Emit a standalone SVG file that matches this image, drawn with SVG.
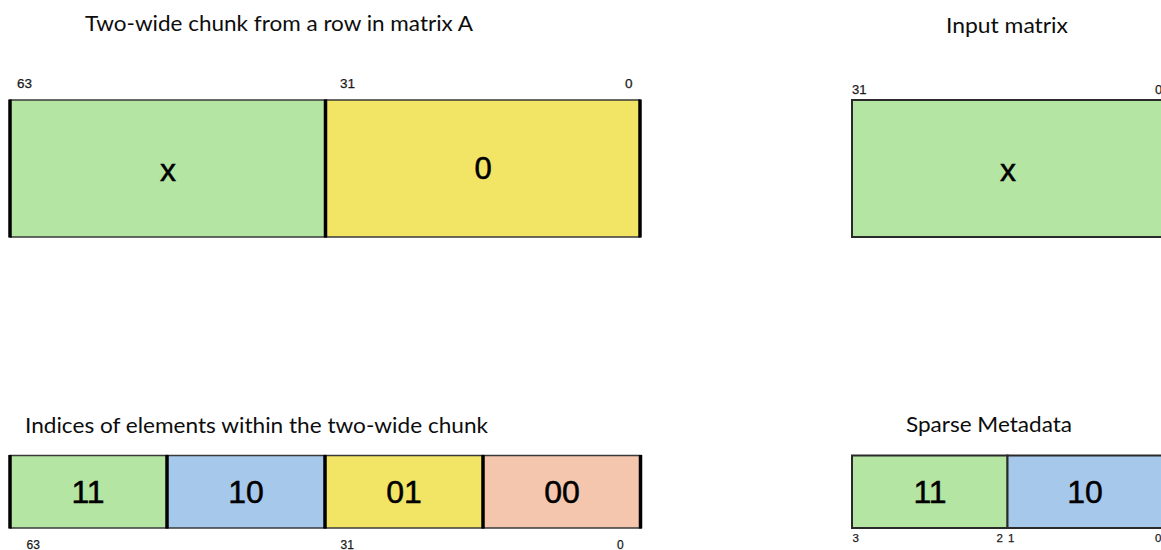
<svg xmlns="http://www.w3.org/2000/svg" width="1161" height="550" viewBox="0 0 1161 550">
<style>
.title{font-family:Lato,"Open Sans","Liberation Sans",sans-serif;font-size:21px;fill:#0d0d0d}
.val{font-family:"Liberation Sans",Arial,sans-serif;font-size:31px;fill:#000;stroke:#000;stroke-width:0.5;text-anchor:middle}
.bit{font-family:"Liberation Sans",Arial,sans-serif;font-size:13px;fill:#1a1a1a;stroke:#1a1a1a;stroke-width:0.25}
.cell{stroke:#3a3a3a;stroke-width:1.5}
.thick{stroke:#000;stroke-width:3.5}
.g{fill:#b4e5a2}.y{fill:#f2e464}.b{fill:#a6c8eb}.p{fill:#f4c6ad}
</style>
<rect width="1161" height="550" fill="#fff"/>

<g id="chunk-a">
<text class="title" x="85" y="31" textLength="388" lengthAdjust="spacingAndGlyphs">Two-wide chunk from a row in matrix A</text>
<rect class="cell g" x="10" y="100" width="315.5" height="137"/>
<rect class="cell y" x="325.5" y="100" width="314.5" height="137"/>
<line class="thick" x1="10" y1="99.5" x2="10" y2="237.5"/>
<line class="thick" x1="325.5" y1="99.5" x2="325.5" y2="237.5"/>
<line class="thick" x1="640" y1="99.5" x2="640" y2="237.5"/>
<text class="val" x="168" y="181" style="font-size:32px">x</text>
<text class="val" x="483" y="179">0</text>
<text class="bit" x="17" y="88" style="font-size:13.5px">63</text>
<text class="bit" x="340" y="88" style="font-size:13.5px">31</text>
<text class="bit" x="625" y="88" style="font-size:13.5px">0</text>
</g>

<g id="input-matrix">
<text class="title" x="946" y="33" textLength="122" lengthAdjust="spacingAndGlyphs">Input matrix</text>
<rect x="852" y="100" width="400" height="137" fill="#b4e5a2" stroke="#2a2a2a" stroke-width="2"/>
<text class="val" x="1008" y="181" style="font-size:32px">x</text>
<text class="bit" x="852" y="94">31</text>
<text class="bit" x="1155" y="94">0</text>
</g>

<g id="indices">
<text class="title" x="25" y="433" textLength="463" lengthAdjust="spacingAndGlyphs">Indices of elements within the two-wide chunk</text>
<rect class="cell g" x="10" y="455.5" width="157" height="72.5"/>
<rect class="cell b" x="167" y="455.5" width="158" height="72.5"/>
<rect class="cell y" x="325" y="455.5" width="158" height="72.5"/>
<rect class="cell p" x="483" y="455.5" width="158" height="72.5"/>
<line class="thick" x1="10" y1="455" x2="10" y2="528.5"/>
<line class="thick" x1="167" y1="455" x2="167" y2="528.5"/>
<line class="thick" x1="325" y1="455" x2="325" y2="528.5"/>
<line class="thick" x1="483" y1="455" x2="483" y2="528.5"/>
<line class="thick" x1="640.5" y1="455" x2="640.5" y2="528.5"/>
<text class="val" x="88" y="503" style="font-size:32px">11</text>
<text class="val" x="246" y="503" style="font-size:32px">10</text>
<text class="val" x="404" y="503" style="font-size:32px">01</text>
<text class="val" x="562" y="503" style="font-size:32px">00</text>
<text class="bit" x="26.5" y="549" style="font-size:12px">63</text>
<text class="bit" x="340.5" y="549" style="font-size:12px">31</text>
<text class="bit" x="617" y="549" style="font-size:12px">0</text>
</g>

<g id="sparse-metadata">
<text class="title" x="906" y="432" textLength="166" lengthAdjust="spacingAndGlyphs">Sparse Metadata</text>
<rect x="852" y="455.5" width="155.5" height="72.5" fill="#b4e5a2" stroke="#2a2a2a" stroke-width="2"/>
<rect x="1007.5" y="455.5" width="250" height="72.5" fill="#a6c8eb" stroke="#2a2a2a" stroke-width="2"/>
<text class="val" x="930" y="503" style="font-size:32px">11</text>
<text class="val" x="1085" y="503" style="font-size:32px">10</text>
<text class="bit" x="852.5" y="542" style="font-size:11.5px">3</text>
<text class="bit" x="996.5" y="542" style="font-size:11.5px">2</text>
<text class="bit" x="1008" y="542" style="font-size:11.5px">1</text>
<text class="bit" x="1155" y="542" style="font-size:11.5px">0</text>
</g>

<g id="connectors"></g>
</svg>
